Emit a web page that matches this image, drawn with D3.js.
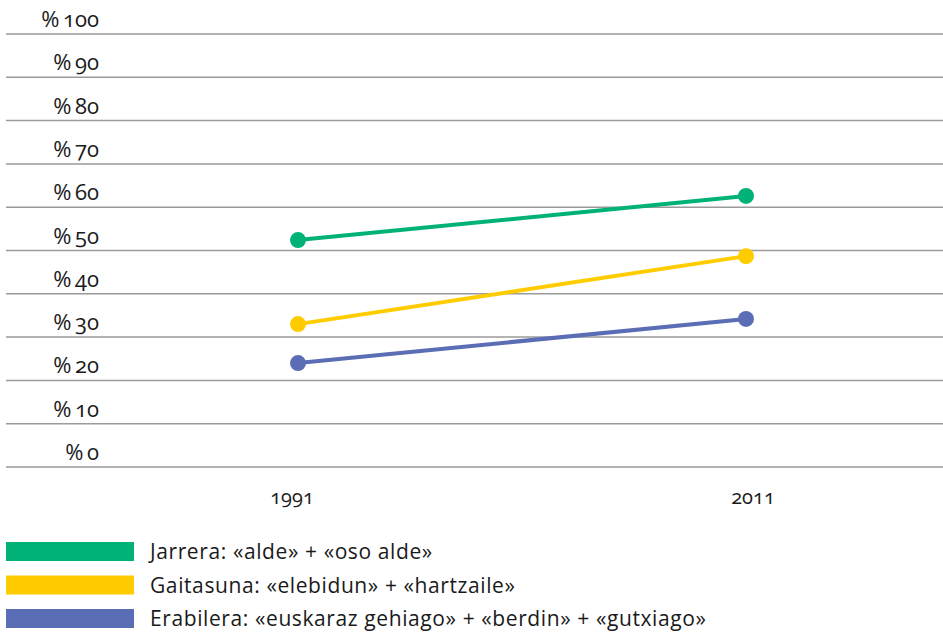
<!DOCTYPE html>
<meta charset="utf-8">
<title>Jarrera, gaitasuna, erabilera</title>
<style>
body { margin: 0; background: white; }
svg { font-family: "Open Sans", sans-serif; font-variant-numeric: oldstyle-nums; font-feature-settings: "onum"; }
.grid line { stroke: #9a9a9a; stroke-width: 1.5px; }
.ylab, .xlab, .leg { fill: #1a1a1a; }
</style>
<body>
<script src="https://d3js.org/d3.v7.min.js"></script>
<script>
// data
const years = [1991, 2011];
const seriesNames = [
  "Jarrera: «alde» + «oso alde»",
  "Gaitasuna: «elebidun» + «hartzaile»",
  "Erabilera: «euskaraz gehiago» + «berdin» + «gutxiago»"
];
const jarrera = [52.4, 62.6];
const gaitasuna = [33.0, 48.7];
const erabilera = [24.0, 34.2];
const colors = ["#00b277", "#ffcc00", "#5a6db5"];
const yTicks = [0, 10, 20, 30, 40, 50, 60, 70, 80, 90, 100];

const width = 943, height = 632;

const svg = d3.select("body").append("svg")
  .attr("width", width)
  .attr("height", height);

const y = d3.scaleLinear().domain([0, 100]).range([467, 34]);
const x = d3.scaleLinear().domain([1991, 2011]).range([298, 746]);

// gridlines
svg.append("g").attr("class", "grid")
  .selectAll("line")
  .data(yTicks)
  .enter().append("line")
    .attr("x1", 6).attr("x2", width)
    .attr("y1", d => y(d)).attr("y2", d => y(d));

// y labels sit above each line
svg.append("g")
  .selectAll("text")
  .data(yTicks)
  .enter().append("text")
    .attr("class", "ylab")
    .attr("x", 99)
    .attr("y", d => y(d) - 7)
    .attr("text-anchor", "end")
    .style("font-size", "22px")
    .text(d => "%\u2009" + d);

// x labels (2011 sits a bit right of its point in the original)
svg.append("g")
  .selectAll("text")
  .data(years)
  .enter().append("text")
    .attr("class", "xlab")
    .attr("x", d => x(d) + (d === 2011 ? 7 : -6))
    .attr("y", 504)
    .attr("text-anchor", "middle")
    .style("font-size", "20px")
    .text(d => d);

// lines + dots
const allSeries = [jarrera, gaitasuna, erabilera];
const line = d3.line()
  .x((d, i) => x(years[i]))
  .y(d => y(d));

allSeries.forEach(function(vals, k) {
  svg.append("path")
    .datum(vals)
    .attr("d", line)
    .attr("fill", "none")
    .attr("stroke", colors[k])
    .attr("stroke-width", 4);
  svg.selectAll("circle.s" + k)
    .data(vals)
    .enter().append("circle")
      .attr("class", "s" + k)
      .attr("cx", (d, i) => x(years[i]))
      .attr("cy", d => y(d))
      .attr("r", 8)
      .attr("fill", colors[k]);
});

// legend
const leg = svg.append("g")
  .selectAll("g")
  .data(seriesNames)
  .enter().append("g")
    .attr("transform", (d, i) => "translate(0," + (542 + i * 33.5) + ")");
leg.append("rect")
  .attr("x", 6).attr("y", 0)
  .attr("width", 128).attr("height", 19)
  .attr("fill", (d, i) => colors[i]);
leg.append("text")
  .attr("class", "leg")
  .attr("x", 150)
  .attr("y", 17)
  .style("font-size", "21px")
  .style("letter-spacing", "0.6px")
  .text(d => d);
</script>
</body>
